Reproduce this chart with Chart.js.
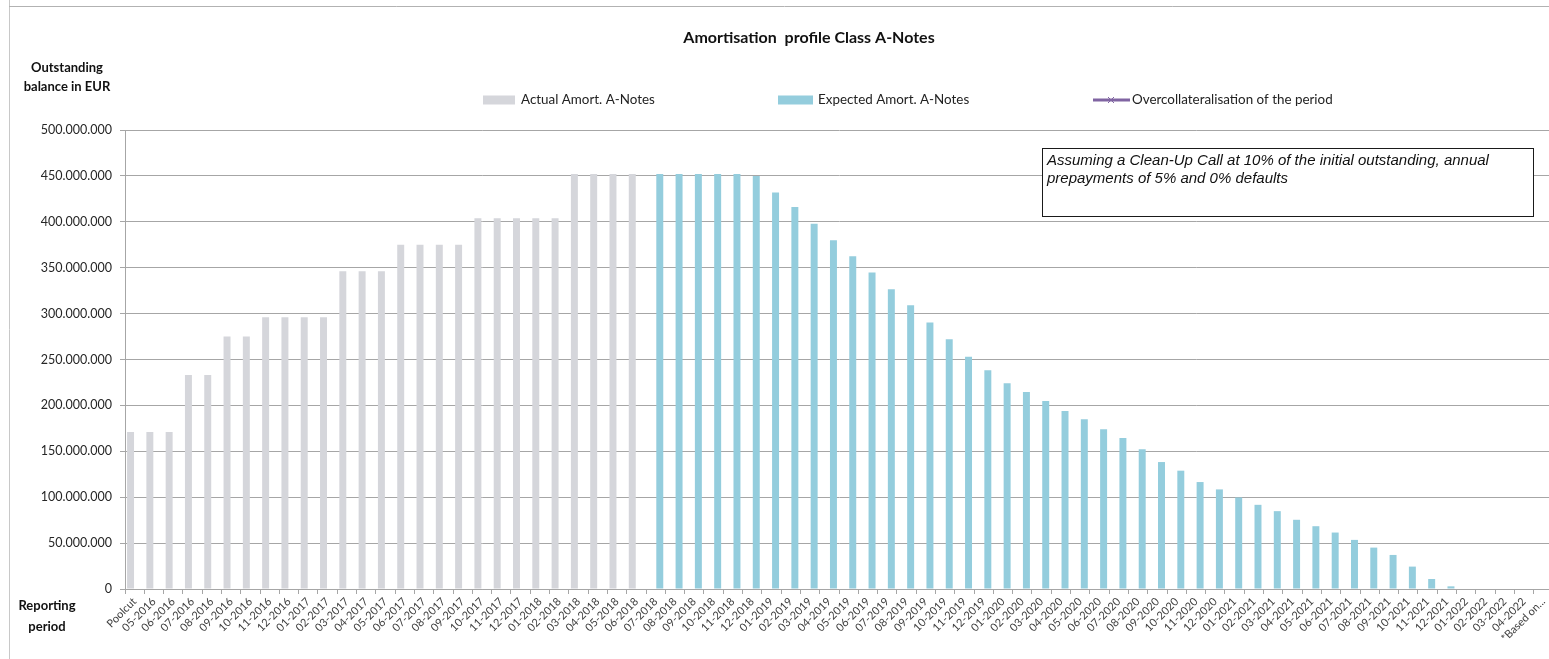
<!DOCTYPE html>
<html>
<head>
<meta charset="utf-8">
<script src="https://cdn.jsdelivr.net/npm/chart.js@4/dist/chart.umd.min.js"></script>
<style>
  html, body { margin: 0; padding: 0; overflow: hidden; background: #fff; }
  #wrap { width: 1560px; height: 659px; }
</style>
</head>
<body>
<div id="wrap"><canvas id="chart" width="1560" height="659"></canvas></div>
<script>
// reporting periods (x axis)
const periods = [
    "Poolcut",
    "05-2016", "06-2016", "07-2016", "08-2016", "09-2016", "10-2016", "11-2016", "12-2016",
    "01-2017", "02-2017", "03-2017", "04-2017", "05-2017", "06-2017", "07-2017", "08-2017",
    "09-2017", "10-2017", "11-2017", "12-2017",
    "01-2018", "02-2018", "03-2018", "04-2018", "05-2018", "06-2018", "07-2018", "08-2018",
    "09-2018", "10-2018", "11-2018", "12-2018",
    "01-2019", "02-2019", "03-2019", "04-2019", "05-2019", "06-2019", "07-2019", "08-2019",
    "09-2019", "10-2019", "11-2019", "12-2019",
    "01-2020", "02-2020", "03-2020", "04-2020", "05-2020", "06-2020", "07-2020", "08-2020",
    "09-2020", "10-2020", "11-2020", "12-2020",
    "01-2021", "02-2021", "03-2021", "04-2021", "05-2021", "06-2021", "07-2021", "08-2021",
    "09-2021", "10-2021", "11-2021", "12-2021",
    "01-2022", "02-2022", "03-2022", "04-2022",
    "*Based on..."
];

// outstanding balance in million EUR, Poolcut .. 06-2018
const actualAmort = [
    171, 171, 171, 233, 233, 275, 275, 296, 296, 296, 296, 346, 346, 346,
    375, 375, 375, 375, 404, 404, 404, 404, 404, 452, 452, 452, 452
];

// expected outstanding balance in million EUR, 07-2018 .. 04-2022
const expectedAmort = [
    452, 452, 452, 452, 452, 450, 432, 416, 398, 380, 362.5, 344.7, 326.5, 309,
    290.2, 272, 253, 238.2, 224, 214.5, 204.7, 193.8, 185, 174, 164.5, 152.2,
    138.3, 128.9, 116.5, 108.5, 99.7, 91.7, 84.8, 75.4, 68.4, 61.5, 53.5, 45.1,
    37.1, 24.4, 10.9, 2.9, 0, 0, 0, 0
];

// overcollateralisation of the period (no values shown)
const overcollateralisation = [];

const yTicks = [0, 50, 100, 150, 200, 250, 300, 350, 400, 450, 500];

const MIO = 1000000;

function alignSeries(values, start) {
    return periods.map((p, i) => {
        const v = values[i - start];
        return v === undefined ? null : v * MIO;
    });
}

function formatEur(v) {
    return v === 0 ? "0" : String(v).replace(/\B(?=(\d{3})+(?!\d))/g, ".");
}

const decor = {
    id: "decor",
    beforeDraw(chart) {
        const ctx = chart.ctx;
        ctx.save();
        ctx.fillStyle = "#fff";
        ctx.fillRect(0, 0, chart.width, chart.height);
        ctx.lineWidth = 1;
        ctx.strokeStyle = "#c8c8c8";
        ctx.beginPath();
        ctx.moveTo(9.5, 0);
        ctx.lineTo(9.5, chart.height);
        ctx.stroke();
        ctx.strokeStyle = "#b2b2b2";
        ctx.beginPath();
        ctx.moveTo(9, 6.5);
        ctx.lineTo(chart.width, 6.5);
        ctx.stroke();
        ctx.restore();
    },
    afterDraw(chart) {
        const ctx = chart.ctx;
        ctx.save();
        ctx.fillStyle = "#111";
        ctx.textBaseline = "middle";

        // title
        ctx.textAlign = "center";
        ctx.font = "bold 16px Lato";
        ctx.fillText("Amortisation  profile Class A-Notes", 809, 38);

        // axis captions
        ctx.font = "bold 13px Lato";
        ctx.fillText("Outstanding", 67, 68);
        ctx.fillText("balance in EUR", 67, 87);
        ctx.fillText("Reporting", 47, 606);
        ctx.fillText("period", 47, 627);

        // legend
        const ds = chart.data.datasets;
        const legendY = 100;
        ctx.textAlign = "left";
        ctx.font = "13.4px Lato";
        ctx.fillStyle = ds[0].backgroundColor;
        ctx.fillRect(483, legendY - 4.5, 32, 9);
        ctx.fillStyle = "#222";
        ctx.fillText(ds[0].label, 521, legendY);

        ctx.fillStyle = ds[1].backgroundColor;
        ctx.fillRect(778, legendY - 4.5, 35, 9);
        ctx.fillStyle = "#222";
        ctx.fillText(ds[1].label, 818, legendY);

        ctx.strokeStyle = ds[2].borderColor;
        ctx.lineWidth = 3;
        ctx.beginPath();
        ctx.moveTo(1093, legendY);
        ctx.lineTo(1130, legendY);
        ctx.stroke();
        ctx.lineWidth = 1;
        ctx.beginPath();
        ctx.moveTo(1108, legendY - 3);
        ctx.lineTo(1114, legendY + 3);
        ctx.moveTo(1114, legendY - 3);
        ctx.lineTo(1108, legendY + 3);
        ctx.stroke();
        ctx.fillStyle = "#222";
        ctx.fillText(ds[2].label, 1132, legendY);

        // note box
        ctx.fillStyle = "#fff";
        ctx.fillRect(1042, 148, 492, 69);
        ctx.strokeStyle = "#1a1a1a";
        ctx.lineWidth = 1;
        ctx.strokeRect(1042.5, 148.5, 491, 68);
        ctx.fillStyle = "#111";
        ctx.font = "italic 15px 'Liberation Sans'";
        ctx.fillText("Assuming a Clean-Up Call at 10% of the initial outstanding, annual", 1047, 161);
        ctx.fillText("prepayments of 5% and 0% defaults", 1047, 179);
        ctx.restore();
    }
};

new Chart(document.getElementById("chart"), {
    type: "bar",
    data: {
        labels: periods,
        datasets: [
            {
                label: "Actual Amort. A-Notes",
                data: alignSeries(actualAmort, 0),
                backgroundColor: "#d5d6db",
                categoryPercentage: 0.85,
                barPercentage: 0.85
            },
            {
                label: "Expected Amort. A-Notes",
                data: alignSeries(expectedAmort, actualAmort.length),
                backgroundColor: "#94cddd",
                categoryPercentage: 0.85,
                barPercentage: 0.85
            },
            {
                type: "line",
                label: "Overcollateralisation of the period",
                data: alignSeries(overcollateralisation, 0),
                borderColor: "#8064a2",
                backgroundColor: "#8064a2",
                borderWidth: 3,
                pointStyle: "cross",
                pointRotation: 45
            }
        ]
    },
    options: {
        responsive: false,
        animation: false,
        layout: {
            padding: { top: 130, left: 0, right: 5, bottom: 0 }
        },
        plugins: {
            legend: { display: false },
            tooltip: { enabled: false }
        },
        scales: {
            x: {
                grid: {
                    drawOnChartArea: false,
                    color: "#a6a6a6",
                    tickLength: 5
                },
                border: { color: "#a6a6a6" },
                ticks: {
                    autoSkip: false,
                    minRotation: 45,
                    maxRotation: 45,
                    padding: 1,
                    color: "#404040",
                    font: { family: "Lato", size: 11 }
                },
                afterFit(scale) {
                    scale.height = 70;
                }
            },
            y: {
                min: 0,
                max: yTicks[yTicks.length - 1] * MIO,
                afterBuildTicks(scale) {
                    scale.ticks = yTicks.map(v => ({ value: v * MIO }));
                },
                grid: {
                    color: "#a6a6a6",
                    tickLength: 5
                },
                border: { color: "#a6a6a6" },
                ticks: {
                    padding: 8,
                    color: "#262626",
                    font: { family: "Lato", size: 12.5 },
                    callback: v => formatEur(v)
                },
                afterFit(scale) {
                    scale.width = 125;
                }
            }
        }
    },
    plugins: [decor]
});
</script>
</body>
</html>
